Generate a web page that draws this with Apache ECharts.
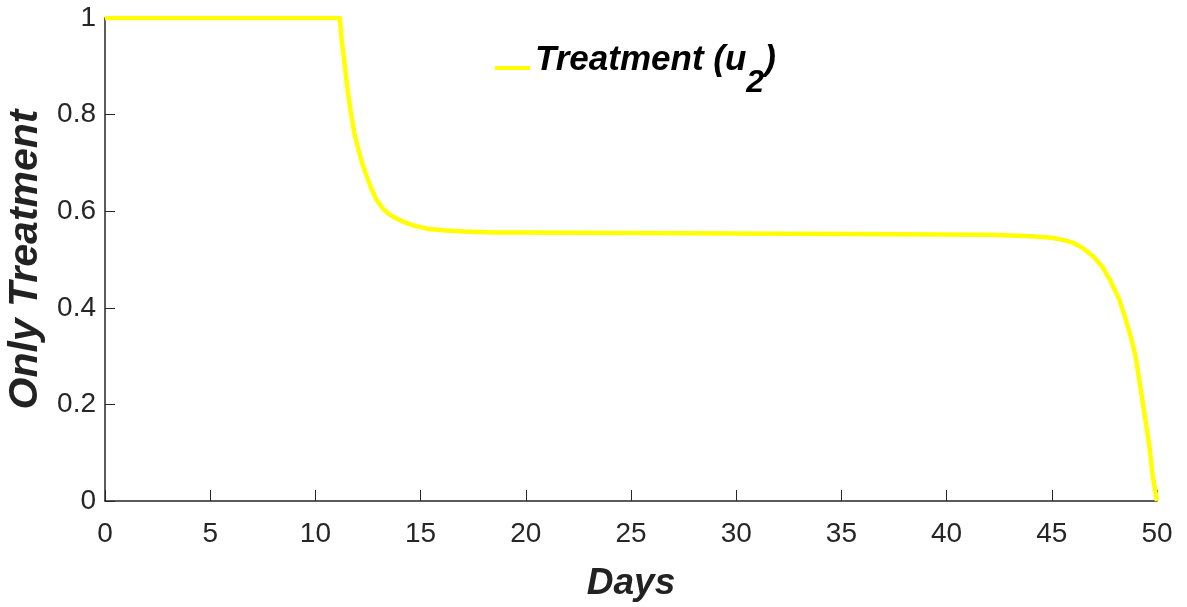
<!DOCTYPE html>
<html>
<head>
<meta charset="utf-8">
<title>Only Treatment</title>
<script src="https://cdn.jsdelivr.net/npm/echarts@6/dist/echarts.min.js"></script>
<style>
  html, body { margin: 0; padding: 0; background: #fff; }
  #chart { width: 1187px; height: 607px; }
</style>
</head>
<body>
<div id="chart"></div>
<script>
// values
const days = [0, 11.16, 11.25, 11.4, 11.55, 11.7, 11.85, 12, 12.2, 12.4, 12.65, 12.9, 13.2, 13.5, 13.85, 14.3, 14.8,
  15.4, 16.2, 17, 18.5, 20, 25, 30, 35, 40, 42, 44, 45, 45.5, 46, 46.5, 47, 47.4, 47.8, 48.2, 48.5, 48.8, 49,
  49.25, 49.45, 49.65, 49.8, 50]
const treatment = [1, 1, 0.955, 0.9, 0.845, 0.8, 0.762, 0.735, 0.703, 0.677, 0.648, 0.624, 0.606, 0.594, 0.585, 0.576,
  0.569, 0.563, 0.56, 0.558, 0.556, 0.556, 0.555, 0.554, 0.553, 0.552, 0.551, 0.548, 0.545, 0.541, 0.535, 0.523,
  0.505, 0.485, 0.455, 0.418, 0.378, 0.333, 0.295, 0.225, 0.168, 0.11, 0.05, 0]
const xTicks = [0, 5, 10, 15, 20, 25, 30, 35, 40, 45, 50]
const yTicks = [0, 0.2, 0.4, 0.6, 0.8, 1]

const seriesName = 'Treatment (u2)'
const font = "'Liberation Sans', Arial, Helvetica, sans-serif"
const axisColor = '#262626'

const chart = echarts.init(document.getElementById('chart'))

chart.setOption({
  animation: false,
  backgroundColor: '#fff',
  grid: {
    left: 105,
    right: 30,
    top: 18,
    bottom: 106,
    containLabel: false,
    outerBoundsMode: 'none'
  },
  legend: {
    data: [seriesName],
    left: 490,
    top: 32,
    icon: 'rect',
    itemWidth: 35,
    itemHeight: 4,
    itemGap: 6,
    formatter: () => '{a|Treatment (u}{b|2}{a|)}',
    textStyle: {
      rich: {
        a: {
          fontFamily: font,
          fontSize: 35,
          fontWeight: 'bold',
          fontStyle: 'italic',
          color: '#000',
          lineHeight: 40,
          padding: [0, 0, 15, 0]
        },
        b: {
          fontFamily: font,
          fontSize: 32,
          fontWeight: 'bold',
          fontStyle: 'italic',
          color: '#000',
          lineHeight: 40,
          padding: [30, 0, 0, 0]
        }
      }
    }
  },
  xAxis: {
    type: 'value',
    min: xTicks[0],
    max: xTicks[xTicks.length - 1],
    interval: xTicks[1] - xTicks[0],
    name: 'Days',
    nameLocation: 'middle',
    nameGap: 64,
    nameTextStyle: {
      fontFamily: font,
      fontSize: 37,
      fontWeight: 'bold',
      fontStyle: 'italic',
      color: '#222'
    },
    axisLine: { show: true, lineStyle: { color: axisColor, width: 1.5 } },
    axisTick: { show: true, inside: true, length: 11, lineStyle: { color: axisColor } },
    axisLabel: {
      margin: 19,
      fontFamily: font,
      fontSize: 28,
      color: axisColor
    },
    splitLine: { show: false }
  },
  yAxis: {
    type: 'value',
    min: yTicks[0],
    max: yTicks[yTicks.length - 1],
    interval: 0.2,
    name: 'Only Treatment',
    nameLocation: 'middle',
    nameGap: 58,
    nameRotate: 90,
    nameTextStyle: {
      fontFamily: font,
      fontSize: 41,
      fontWeight: 'bold',
      fontStyle: 'italic',
      color: '#222'
    },
    axisLine: { show: true, lineStyle: { color: axisColor, width: 1.5 } },
    axisTick: { show: true, inside: true, length: 10, lineStyle: { color: axisColor } },
    axisLabel: {
      margin: 9,
      fontFamily: font,
      fontSize: 28,
      color: axisColor
    },
    splitLine: { show: false }
  },
  series: [{
    name: seriesName,
    type: 'line',
    data: days.map((d, i) => [d, treatment[i]]),
    showSymbol: false,
    smooth: false,
    lineStyle: { color: '#ffff00', width: 4.5, join: 'round' },
    itemStyle: { color: '#ffff00' }
  }]
})
</script>
</body>
</html>
